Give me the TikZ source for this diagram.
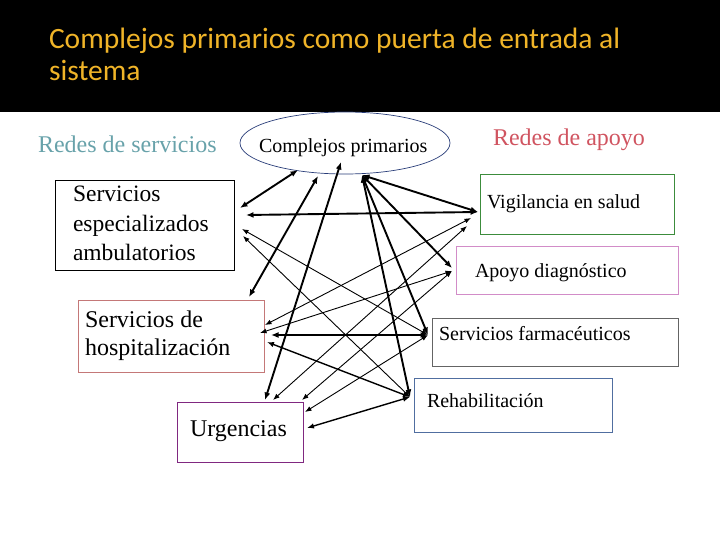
\documentclass[tikz,border=0pt]{standalone}
\usepackage{fontspec}
\setmainfont{Liberation Serif}
\newfontfamily\titlefont{Carlito}
\usetikzlibrary{arrows.meta,shapes.geometric}
\definecolor{titleor}{RGB}{240,180,40}
\definecolor{redserv}{RGB}{104,162,170}
\definecolor{redapoyo}{RGB}{208,84,96}
\definecolor{ellblue}{RGB}{40,60,120}
\definecolor{hospc}{RGB}{196,120,120}
\definecolor{urgc}{RGB}{128,40,128}
\definecolor{vigc}{RGB}{60,140,60}
\definecolor{apoyc}{RGB}{210,140,200}
\definecolor{farmc}{RGB}{100,100,100}
\definecolor{rehc}{RGB}{80,110,160}
\begin{document}
\begin{tikzpicture}[x=1pt,y=-1pt,
  box/.style={draw, line width=0.9pt, inner sep=0pt, outer sep=0pt},
  lbl/.style={anchor=base west, inner sep=0pt, outer sep=0pt},
  thk/.style={line width=1.9pt, {Latex[length=7.5pt,width=6pt]}-{Latex[length=7.5pt,width=6pt]}},
  med/.style={line width=1.4pt, {Latex[length=7pt,width=5.5pt]}-{Latex[length=7pt,width=5.5pt]}},
  thn/.style={line width=0.9pt, {Latex[length=6.5pt,width=5pt]}-{Latex[length=6.5pt,width=5pt]}}
]
\useasboundingbox (0,0) rectangle (720,540);
\fill[black] (0,0) rectangle (720,112);
% title
\node[lbl, font=\titlefont\fontsize{29.5}{32}\selectfont, text=titleor] (t1) at (49,49) {Complejos primarios como puerta de entrada al};
\node[lbl, font=\titlefont\fontsize{29.5}{32}\selectfont, text=titleor] (t2) at (49,81) {sistema};
% headers
\node[lbl, font=\fontsize{24}{28}\selectfont, text=redserv] (hs) at (38,153) {Redes de servicios};
\node[lbl, font=\fontsize{24}{28}\selectfont, text=redapoyo] (ha) at (493,146) {Redes de apoyo};
% ellipse
\node[ellipse, draw=ellblue, line width=0.7pt, minimum width=210pt, minimum height=62pt, inner sep=0pt, outer sep=0pt] (C) at (345,143) {};
\node[lbl, font=\fontsize{20}{24}\selectfont] (Ct) at (259,153) {Complejos primarios};
% left boxes
\node[box, draw=black, minimum width=179pt, minimum height=90pt] (L1) at (144.5,225) {};
\node[lbl, font=\fontsize{23.5}{29}\selectfont] (L1a) at (73,202) {Servicios};
\node[lbl, font=\fontsize{23.5}{29}\selectfont] (L1b) at (73,231) {especializados};
\node[lbl, font=\fontsize{23.5}{29}\selectfont] (L1c) at (73,260) {ambulatorios};
\node[box, draw=hospc, minimum width=186pt, minimum height=72pt] (L2) at (171,336) {};
\node[lbl, font=\fontsize{24}{28}\selectfont] (L2a) at (85,327) {Servicios de};
\node[lbl, font=\fontsize{24}{28}\selectfont] (L2b) at (85,355) {hospitalización};
\node[box, draw=urgc, minimum width=126pt, minimum height=60pt] (L3) at (240,432) {};
\node[lbl, font=\fontsize{24}{28}\selectfont] (L3a) at (190,436) {Urgencias};
% right boxes
\node[box, draw=vigc, minimum width=194pt, minimum height=60pt] (R1) at (577,204) {};
\node[lbl, font=\fontsize{20}{24}\selectfont] (R1a) at (487,208) {Vigilancia en salud};
\node[box, draw=apoyc, minimum width=222pt, minimum height=48pt] (R2) at (567,270) {};
\node[lbl, font=\fontsize{20}{24}\selectfont] (R2a) at (475,277) {Apoyo diagnóstico};
\node[box, draw=farmc, minimum width=246pt, minimum height=48pt] (R3) at (555,342) {};
\node[lbl, font=\fontsize{20}{24}\selectfont] (R3a) at (439,340) {Servicios farmacéuticos};
\node[box, draw=rehc, minimum width=198pt, minimum height=54pt] (R4) at (513,405) {};
\node[lbl, font=\fontsize{20}{24}\selectfont] (R4a) at (427,407) {Rehabilitación};
% connector end points
\coordinate (cA) at (298,170);
\coordinate (cB) at (318,176);
\coordinate (cC) at (341,162);
\coordinate (cD) at (362,175);
\coordinate (l1a) at (240,208);
\coordinate (l1b) at (246,215);
\coordinate (l1c) at (242,229);
\coordinate (l1d) at (243,236);
\coordinate (l2a) at (249,297);
\coordinate (l2b) at (265,325);
\coordinate (l2c) at (260,333);
\coordinate (l2d) at (271,335);
\coordinate (l2e) at (267,342);
\coordinate (l3a) at (265,400);
\coordinate (l3b) at (273,400);
\coordinate (l3c) at (302,400);
\coordinate (l3d) at (305,412);
\coordinate (l3e) at (307,428);
\coordinate (r1a) at (478,212);
\coordinate (r1b) at (471,218);
\coordinate (r1c) at (467,226);
\coordinate (r2a) at (452,268);
\coordinate (r2b) at (452,271);
\coordinate (r3a) at (428,335);
\coordinate (r4a) at (410,397);
% connectors
\draw[thk] (cA) -- (l1a);
\draw[thk] (cB) -- (l2a);
\draw[thk] (cC) -- (l3a);
\draw[thk] (cD) -- (r1a);
\draw[thk] (cD) -- (r2a);
\draw[thk] (cD) -- (r3a);
\draw[thk] (cD) -- (r4a);
\draw[thk] (l1b) -- (r1a);
\draw[thn] (l1c) -- (r3a);
\draw[thn] (l1d) -- (r4a);
\draw[thn] (l2b) -- (r1b);
\draw[thn] (l2c) -- (r2b);
\draw[thk] (l2d) -- (r3a);
\draw[med] (l2e) -- (r4a);
\draw[thn] (l3b) -- (r1c);
\draw[thn] (l3c) -- (r2b);
\draw[thn] (l3d) -- (r3a);
\draw[med] (l3e) -- (r4a);
\end{tikzpicture}
\end{document}
